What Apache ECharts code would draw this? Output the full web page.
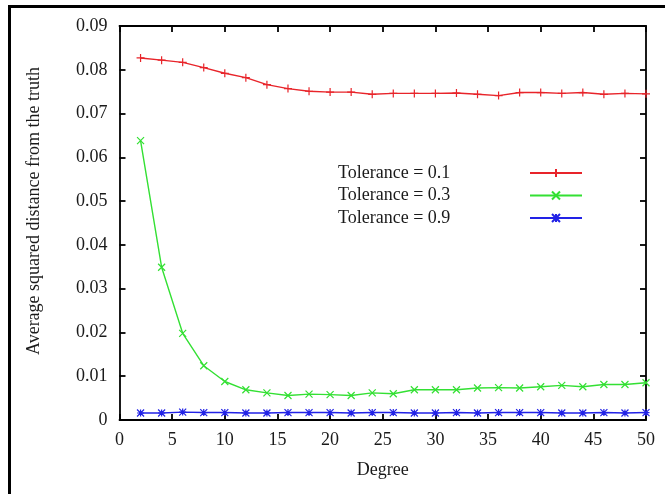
<!DOCTYPE html>
<html><head><meta charset="utf-8">
<script src="https://cdn.jsdelivr.net/npm/echarts@6/dist/echarts.min.js"></script>
<style>html,body{margin:0;padding:0;background:#fff}#c{width:665px;height:494px}</style>
</head><body><div id="c"></div>
<script>
const degrees = [2,4,6,8,10,12,14,16,18,20,22,24,26,28,30,32,34,36,38,40,42,44,46,48,50];
const tol01 = [0.0827,0.0822,0.0817,0.0805,0.0792,0.0782,0.0766,0.0757,0.0751,0.0749,0.0749,0.0744,0.0746,0.0746,0.0746,0.0747,0.0744,0.0741,0.0748,0.0748,0.0746,0.0748,0.0744,0.0746,0.0745];
const tol03 = [0.0638,0.0349,0.0198,0.0124,0.0088,0.0069,0.0062,0.0056,0.0059,0.0058,0.0056,0.0062,0.0060,0.0069,0.0069,0.0069,0.0073,0.0074,0.0073,0.0076,0.0079,0.0076,0.0081,0.0081,0.0085];
const tol09 = [0.0016,0.0016,0.0018,0.0017,0.0017,0.0016,0.0016,0.0017,0.0017,0.0017,0.0016,0.0017,0.0017,0.0016,0.0016,0.0017,0.0016,0.0017,0.0017,0.0017,0.0016,0.0016,0.0017,0.0016,0.0017];
const seriesNames = ['Tolerance = 0.1','Tolerance = 0.3','Tolerance = 0.9'];
const xTitle = 'Degree';
const yTitle = 'Average squared distance from the truth';

const font = 'Liberation Serif';
const txt = '#1a1a1a';
const pair = (arr) => degrees.map((d,i)=>[d,arr[i]]);
const plus = 'path://M5,0L5,10M0,5L10,5';
const cross = 'path://M0,0L10,10M10,0L0,10';
const star = 'path://M0,0L10,10M10,0L0,10M5,0L5,10M0,5L10,5';
function mk(name, data, color, sym, size){
  return {name, type:'line', data: pair(data), symbol: sym, symbolSize: size, showAllSymbol:true,
    lineStyle:{color, width:1.4}, itemStyle:{color, borderColor:color, borderWidth:1.2},
    emphasis:{disabled:true}};
}
const axisCommon = {
  axisLine:{show:true, onZero:false, lineStyle:{color:'#000', width:1.8}},
  axisTick:{show:true, inside:true, length:6, lineStyle:{color:'#000', width:1.8}},
  splitLine:{show:false}
};
const chart = echarts.init(document.getElementById('c'), null, {renderer:'canvas'});
chart.setOption({
  animation:false,
  backgroundColor:'#fff',
  grid:{left:119.5, right:19, top:26, bottom:74, containLabel:false},
  graphic:[{type:'rect', left:7, top:4, shape:{x:0,y:0,width:700,height:540}, style:{fill:'none', stroke:'#000', lineWidth:3}, silent:true}],
  legend:{
    orient:'vertical', left:333, top:159, align:'right', itemWidth:52, itemHeight:10, itemGap:4.5,
    data: seriesNames,
    formatter: '{a|{name}}',
    textStyle:{fontFamily:font, fontSize:18, color:txt, rich:{a:{width:187, align:'left', fontFamily:font, fontSize:18, color:txt}}},
    selectedMode:false
  },
  xAxis:[
    Object.assign({type:'value', min:0, max:50, interval:5, position:'bottom',
      name:xTitle, nameLocation:'middle', nameGap:41,
      nameTextStyle:{fontFamily:font, fontSize:18, color:txt},
      axisLabel:{fontFamily:font, fontSize:18, color:txt, margin:11}}, axisCommon),
    Object.assign({type:'value', min:0, max:50, interval:5, position:'top', axisLabel:{show:false}}, axisCommon)
  ],
  yAxis:[
    Object.assign({type:'value', min:0, max:0.09, interval:0.01, position:'left',
      name:yTitle, nameLocation:'middle', nameGap:76, nameRotate:90,
      nameTextStyle:{fontFamily:font, fontSize:18, color:txt, padding:[0,0,0,24]},
      axisLabel:{fontFamily:font, fontSize:18, color:txt, margin:12,
        formatter:(v)=> v===0 ? '0' : v.toFixed(2)}}, axisCommon),
    Object.assign({type:'value', min:0, max:0.09, interval:0.01, position:'right', axisLabel:{show:false}}, axisCommon)
  ],
  series:[
    mk(seriesNames[0], tol01, '#e8242a', plus, 8),
    mk(seriesNames[1], tol03, '#33e033', cross, 7),
    mk(seriesNames[2], tol09, '#2222e6', star, 7)
  ]
});
</script></body></html>
